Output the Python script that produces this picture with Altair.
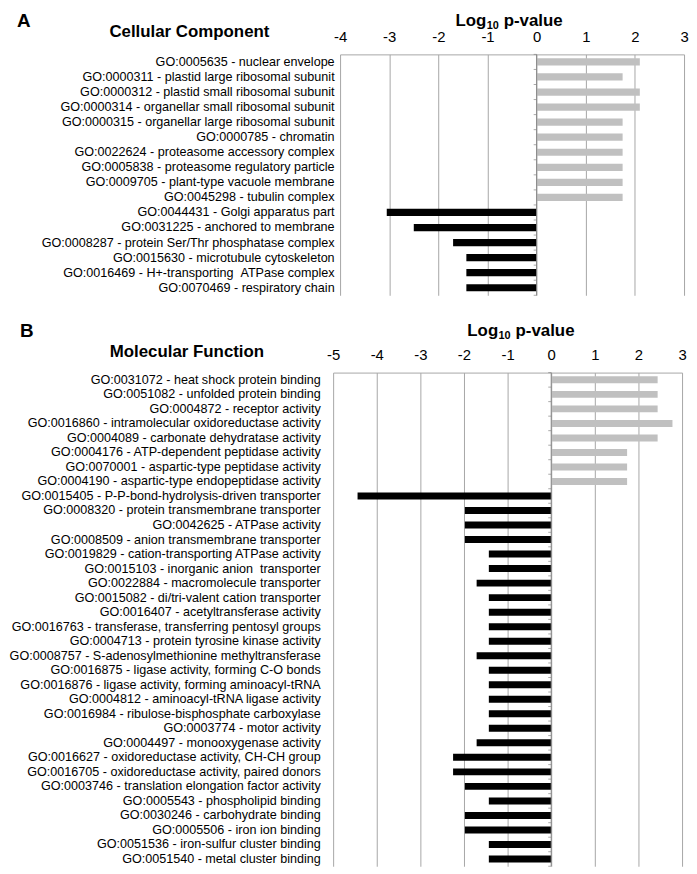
import altair as alt
import pandas as pd

# ---------------- data ----------------
cc_terms = [
    "GO:0005635 - nuclear envelope",
    "GO:0000311 - plastid large ribosomal subunit",
    "GO:0000312 - plastid small ribosomal subunit",
    "GO:0000314 - organellar small ribosomal subunit",
    "GO:0000315 - organellar large ribosomal subunit",
    "GO:0000785 - chromatin",
    "GO:0022624 - proteasome accessory complex",
    "GO:0005838 - proteasome regulatory particle",
    "GO:0009705 - plant-type vacuole membrane",
    "GO:0045298 - tubulin complex",
    "GO:0044431 - Golgi apparatus part",
    "GO:0031225 - anchored to membrane",
    "GO:0008287 - protein Ser/Thr phosphatase complex",
    "GO:0015630 - microtubule cytoskeleton",
    "GO:0016469 - H+-transporting \u00a0ATPase complex",
    "GO:0070469 - respiratory chain",
]
cc_values = [2.1, 1.75, 2.1, 2.1, 1.75, 1.75, 1.75, 1.75, 1.75, 1.75,
             -3.05, -2.5, -1.7, -1.43, -1.43, -1.43]

mf_terms = [
    "GO:0031072 - heat shock protein binding",
    "GO:0051082 - unfolded protein binding",
    "GO:0004872 - receptor activity",
    "GO:0016860 - intramolecular oxidoreductase activity",
    "GO:0004089 - carbonate dehydratase activity",
    "GO:0004176 - ATP-dependent peptidase activity",
    "GO:0070001 - aspartic-type peptidase activity",
    "GO:0004190 - aspartic-type endopeptidase activity",
    "GO:0015405 - P-P-bond-hydrolysis-driven transporter",
    "GO:0008320 - protein transmembrane transporter",
    "GO:0042625 - ATPase activity",
    "GO:0008509 - anion transmembrane transporter\u00a0",
    "GO:0019829 - cation-transporting ATPase activity",
    "GO:0015103 - inorganic anion \u00a0transporter\u00a0",
    "GO:0022884 - macromolecule transporter\u00a0",
    "GO:0015082 - di/tri-valent cation transporter\u00a0",
    "GO:0016407 - acetyltransferase activity",
    "GO:0016763 - transferase, transferring pentosyl groups",
    "GO:0004713 - protein tyrosine kinase activity",
    "GO:0008757 - S-adenosylmethionine methyltransferase",
    "GO:0016875 - ligase activity, forming C-O bonds",
    "GO:0016876 - ligase activity, forming aminoacyl-tRNA",
    "GO:0004812 - aminoacyl-tRNA ligase activity",
    "GO:0016984 - ribulose-bisphosphate carboxylase",
    "GO:0003774 - motor activity",
    "GO:0004497 - monooxygenase activity",
    "GO:0016627 - oxidoreductase activity, CH-CH group",
    "GO:0016705 - oxidoreductase activity, paired donors",
    "GO:0003746 - translation elongation factor activity",
    "GO:0005543 - phospholipid binding",
    "GO:0030246 - carbohydrate binding",
    "GO:0005506 - iron ion binding",
    "GO:0051536 - iron-sulfur cluster binding",
    "GO:0051540 - metal cluster binding",
]
mf_values = [2.44, 2.44, 2.44, 2.78, 2.44, 1.74, 1.74, 1.74,
             -4.44, -1.98, -1.98, -1.98, -1.43, -1.43, -1.71, -1.43,
             -1.43, -1.43, -1.43, -1.71, -1.43, -1.43, -1.43, -1.43,
             -1.43, -1.71, -2.25, -2.25, -1.98, -1.43, -1.98, -1.98,
             -1.43, -1.43]

cc_ticks = [-4, -3, -2, -1, 0, 1, 2, 3]
mf_ticks = [-5, -4, -3, -2, -1, 0, 1, 2, 3]

panel_letters = ["A", "B"]
panel_headings = ["Cellular Component", "Molecular Function"]
title_parts = ["Log", "10", "p-value"]

# ---------------- style ----------------
FONT = "Liberation Sans"
GRID = "#a6a6a6"
AXIS0 = "#868686"
POS = "#c0c0c0"
NEG = "#000000"
EXTENT = 335


def text_layer(txt, x, y, size, align="center", baseline="middle", bold=True):
    return alt.Chart(pd.DataFrame({"t": [txt]})).mark_text(
        font=FONT, fontSize=size, fontWeight="bold" if bold else "normal",
        align=align, baseline=baseline, color="#000000"
    ).encode(x=alt.value(x), y=alt.value(y), text="t:N")


def panel(terms, values, ticks, x_range, width, height, label_pad,
          letter, heading, letter_x, heading_x, title_c, title_y, heading_y):
    df = pd.DataFrame({"term": terms, "value": values})
    n = len(terms)
    step = height / n

    y = alt.Y("term:N", sort=terms, title=None,
              scale=alt.Scale(paddingInner=0.52, paddingOuter=0.26),
              axis=alt.Axis(orient="left", ticks=False, domain=False, grid=False,
                            labelFont=FONT, labelFontSize=12.7, labelColor="#000000",
                            labelLimit=600, labelPadding=label_pad,
                            minExtent=EXTENT, maxExtent=EXTENT))
    x = alt.X("value:Q", title=None,
              scale=alt.Scale(domain=[ticks[0], ticks[-1]], nice=False, range=x_range),
              axis=alt.Axis(orient="top", values=ticks, labelExpr="'' + datum.value",
                            grid=True, gridColor=GRID, gridWidth=1, gridOpacity=1,
                            domain=True, domainColor=GRID, domainWidth=1,
                            ticks=False, tickSize=0, labelFlush=False, labelOverlap=False,
                            labelFont=FONT, labelFontSize=15, labelColor="#000000",
                            labelPadding=10))

    bars = alt.Chart(df).mark_bar().encode(
        x=x, x2=alt.datum(0), y=y,
        color=alt.condition("datum.value > 0", alt.value(POS), alt.value(NEG)),
    )
    zero = alt.Chart(pd.DataFrame({"z": [0]})).mark_rule(
        color=AXIS0, strokeWidth=1).encode(x=alt.X("z:Q"))
    cat_ticks = alt.Chart(df).mark_tick(
        orient="horizontal", size=3, thickness=1, color=AXIS0,
        xOffset=-1.5, yOffset=-step / 2).encode(x=alt.datum(0), y=y)
    end_tick = alt.Chart(df.tail(1)).mark_tick(
        orient="horizontal", size=3, thickness=1, color=AXIS0,
        xOffset=-1.5, yOffset=step / 2).encode(x=alt.datum(0), y=y)

    t_log = text_layer(title_parts[0], title_c - 6.5, title_y, 17, align="right")
    t_sub = text_layer(title_parts[1], title_c, title_y + 5, 11, align="center")
    t_pv = text_layer(title_parts[2], title_c + 11, title_y, 17, align="left")
    t_letter = text_layer(letter, letter_x, title_y, 19, align="left")
    t_head = text_layer(heading, heading_x, heading_y, 17, align="center")

    return alt.layer(bars, zero, cat_ticks, end_tick,
                     t_log, t_sub, t_pv, t_letter, t_head).properties(
        width=width, height=height)


pa = panel(cc_terms, cc_values, cc_ticks, [0, 347], 347, 243, 6,
           panel_letters[0], panel_headings[0],
           -326, -152, 154, -34, -23)
pb = panel(mf_terms, mf_values, mf_ticks, [-7, 345], 345, 498, 20,
           panel_letters[1], panel_headings[1],
           -323, -154.5, 166, -42, -21)

chart = alt.vconcat(pa, pb, spacing=26).properties(
    padding={"left": 0, "top": 0, "right": 0, "bottom": 0}
).configure_view(stroke=None).configure_concat(spacing=26)

chart.save("out.html", embed_options={"renderer": "svg", "actions": False})
